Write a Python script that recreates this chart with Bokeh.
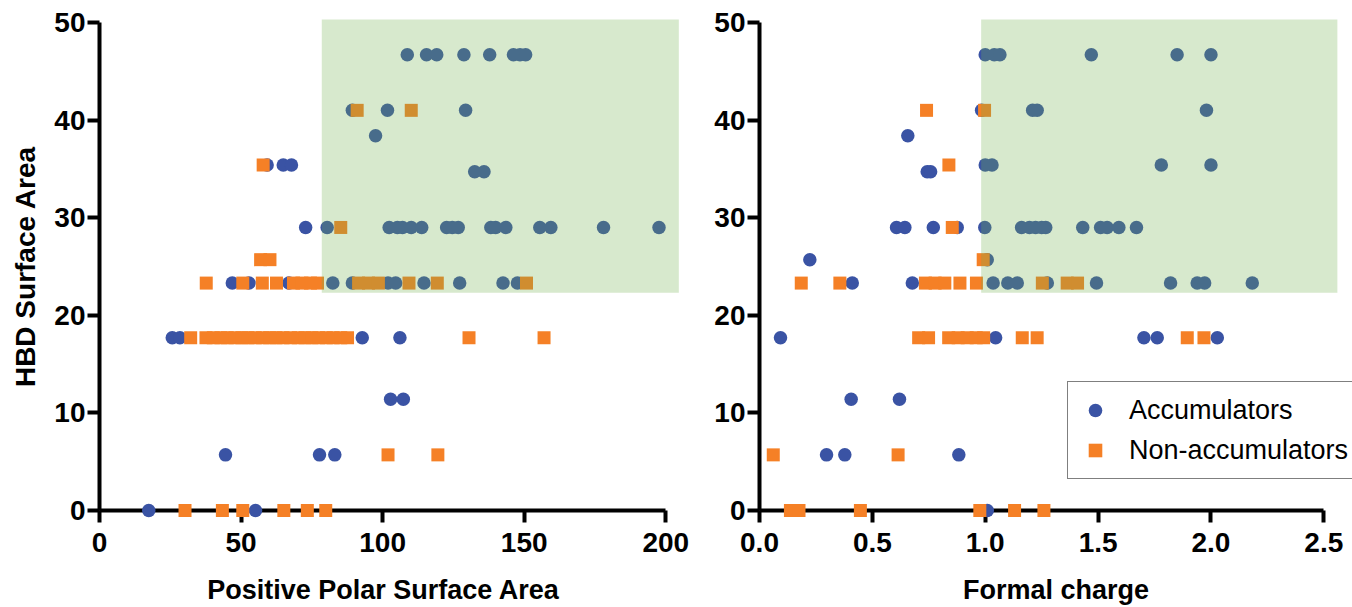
from bokeh.plotting import figure
from bokeh.models import Range1d, FixedTicker, NumeralTickFormatter, Legend, LegendItem
from bokeh.layouts import row
from bokeh.embed import file_html
from bokeh.resources import INLINE

# ---------------- data ----------------
# Left panel: Positive Polar Surface Area vs HBD Surface Area
ppsa_acc = [108.7, 115.5, 119.1, 128.7, 137.8, 146.2, 148.5, 150.5,
            89.3, 101.7, 129.3,
            97.5,
            59.2, 64.9, 67.8,
            132.5, 135.8,
            72.8, 80.4, 102.3, 105.2, 107.0, 110.1, 113.8, 122.6, 124.6, 126.7, 138.2, 139.9, 143.5, 155.5, 159.4, 178.0, 197.6,
            46.9, 52.8, 66.9, 82.4, 89.3, 101.9, 104.6, 114.6, 127.2, 142.5, 147.6,
            25.7, 28.4, 92.8, 106.1,
            102.8, 107.3,
            44.5, 77.7, 83.1,
            17.4, 55.1]
hbd_ppsa_acc = [46.7, 46.7, 46.7, 46.7, 46.7, 46.7, 46.7, 46.7,
                41.0, 41.0, 41.0,
                38.4,
                35.4, 35.4, 35.4,
                34.7, 34.7,
                29.0, 29.0, 29.0, 29.0, 29.0, 29.0, 29.0, 29.0, 29.0, 29.0, 29.0, 29.0, 29.0, 29.0, 29.0, 29.0, 29.0,
                23.3, 23.3, 23.3, 23.3, 23.3, 23.3, 23.3, 23.3, 23.3, 23.3, 23.3,
                17.7, 17.7, 17.7, 17.7,
                11.4, 11.4,
                5.7, 5.7, 5.7,
                0.0, 0.0]

ppsa_non = [91.0, 110.1,
            57.8,
            85.2,
            56.9, 60.2,
            37.7, 50.6, 57.5, 62.5, 68.5, 71.5, 74.5, 77.0, 91.5, 95.0, 98.5, 109.3, 119.3, 150.8,
            32.2, 37.6, 40.2, 42.9, 45.1, 47.8, 50.3, 52.4, 55.0, 57.6, 60.1, 62.3, 64.8, 67.5, 70.2, 72.6,
            75.0, 77.4, 80.1, 82.5, 85.2, 87.6, 130.5, 157.0,
            101.9, 119.5,
            30.2, 43.4, 50.6, 65.1, 73.4, 79.9]
hbd_ppsa_non = [41.0, 41.0,
                35.4,
                29.0,
                25.7, 25.7,
                23.3, 23.3, 23.3, 23.3, 23.3, 23.3, 23.3, 23.3, 23.3, 23.3, 23.3, 23.3, 23.3, 23.3,
                17.7, 17.7, 17.7, 17.7, 17.7, 17.7, 17.7, 17.7, 17.7, 17.7, 17.7, 17.7, 17.7, 17.7, 17.7, 17.7,
                17.7, 17.7, 17.7, 17.7, 17.7, 17.7, 17.7, 17.7,
                5.7, 5.7,
                0.0, 0.0, 0.0, 0.0, 0.0, 0.0]

# Right panel: Formal charge vs HBD Surface Area
fc_acc = [1.0, 1.04, 1.065, 1.47, 1.85, 2.0,
          0.984, 1.21, 1.23, 1.98,
          0.657,
          1.0, 1.03, 1.78, 2.0,
          0.743, 0.758,
          0.607, 0.644, 0.77, 0.876, 0.998, 1.161, 1.196, 1.223, 1.25, 1.268, 1.432, 1.511, 1.54, 1.592, 1.67,
          0.223, 1.009,
          0.411, 0.677, 1.035, 1.10, 1.142, 1.275, 1.493, 1.821, 1.939, 1.972, 2.183,
          0.093, 1.046, 1.703, 1.762, 2.028,
          0.406, 0.62,
          0.297, 0.378, 0.883,
          1.009]
hbd_fc_acc = [46.7, 46.7, 46.7, 46.7, 46.7, 46.7,
              41.0, 41.0, 41.0, 41.0,
              38.4,
              35.4, 35.4, 35.4, 35.4,
              34.7, 34.7,
              29.0, 29.0, 29.0, 29.0, 29.0, 29.0, 29.0, 29.0, 29.0, 29.0, 29.0, 29.0, 29.0, 29.0, 29.0,
              25.7, 25.7,
              23.3, 23.3, 23.3, 23.3, 23.3, 23.3, 23.3, 23.3, 23.3, 23.3, 23.3,
              17.7, 17.7, 17.7, 17.7, 17.7,
              11.4, 11.4,
              5.7, 5.7, 5.7,
              0.0]

fc_non = [0.74, 0.997,
          0.839,
          0.854,
          0.991,
          0.185, 0.356, 0.735, 0.778, 0.821, 0.888, 0.961, 1.253, 1.363, 1.409,
          0.705, 0.749, 0.838, 0.88, 0.92, 0.96, 0.993, 1.164, 1.23, 1.895, 1.969,
          0.061, 0.614,
          0.137, 0.175, 0.447, 0.976, 1.13, 1.26]
hbd_fc_non = [41.0, 41.0,
              35.4,
              29.0,
              25.7,
              23.3, 23.3, 23.3, 23.3, 23.3, 23.3, 23.3, 23.3, 23.3, 23.3,
              17.7, 17.7, 17.7, 17.7, 17.7, 17.7, 17.7, 17.7, 17.7, 17.7, 17.7,
              5.7, 5.7,
              0.0, 0.0, 0.0, 0.0, 0.0, 0.0]

# highlighted regions (data coordinates)
region_ppsa = [78.5, 204.6]
region_fc = [0.982, 2.56]
region_hbd = [22.3, 50.3]

ppsa_ticks = [0, 50, 100, 150, 200]
fc_ticks = [0, 0.5, 1.0, 1.5, 2.0, 2.5]
hbd_ticks = [0, 10, 20, 30, 40, 50]

labels = ["Accumulators", "Non-accumulators"]

# ---------------- style ----------------
BLUE = "#3a53a4"
ORANGE = "#f58026"
GREEN = "#6fb04a"
FONT = "Liberation Sans"
HEIGHT = 607
TOP = 22
FRAME_H = 489


def style(p, xticks, xbounds, xlabel, ylabel):
    p.xgrid.visible = False
    p.ygrid.visible = False
    p.outline_line_color = None
    p.background_fill_color = "white"
    p.border_fill_color = "white"
    for ax in (p.xaxis[0], p.yaxis[0]):
        ax.axis_line_width = 4
        ax.axis_line_color = "black"
        ax.major_tick_line_width = 4
        ax.major_tick_line_color = "black"
        ax.major_tick_out = 12
        ax.major_tick_in = 0
        ax.minor_tick_line_color = None
        ax.major_label_text_font = FONT
        ax.major_label_text_font_style = "bold"
        ax.major_label_text_font_size = "28px"
        ax.major_label_text_color = "black"
        ax.axis_label_text_font = FONT
        ax.axis_label_text_font_style = "bold"
        ax.axis_label_text_font_size = "27px"
        ax.axis_label_text_color = "black"
    xa = p.xaxis[0]
    xa.ticker = FixedTicker(ticks=xticks)
    xa.bounds = xbounds
    xa.major_label_standoff = 10
    xa.axis_label = xlabel
    xa.axis_label_standoff = 20
    ya = p.yaxis[0]
    ya.ticker = FixedTicker(ticks=hbd_ticks)
    ya.bounds = (hbd_ticks[0], hbd_ticks[-1])
    ya.major_label_standoff = 2
    ya.axis_label_standoff = 10
    ya.axis_label_text_font_size = "28px"
    if ylabel:
        ya.axis_label = ylabel


def panel(width, border_left, border_right, xr, xs_acc, ys_acc, xs_non, ys_non, region_x):
    p = figure(width=width, height=HEIGHT, x_range=Range1d(*xr), y_range=Range1d(0, 50),
               output_backend="svg", toolbar_location=None,
               min_border_left=border_left, min_border_right=border_right,
               min_border_top=TOP, min_border_bottom=HEIGHT - TOP - FRAME_H)
    ra = p.scatter(xs_acc, ys_acc, marker="circle", size=13.5, fill_color=BLUE,
                   line_color=None, level="annotation")
    rn = p.scatter(xs_non, ys_non, marker="square", size=13, fill_color=ORANGE,
                   line_color=None, level="annotation")
    p.quad(left=[region_x[0]], right=[region_x[1]], bottom=[region_hbd[0]], top=[region_hbd[1]],
           fill_color=GREEN, fill_alpha=0.28, line_color=None, level="annotation")
    return p, ra, rn


p1, _, _ = panel(700, 99, 33, (0, 200.6), ppsa_acc, hbd_ppsa_acc, ppsa_non, hbd_ppsa_non, region_ppsa)
style(p1, ppsa_ticks, (0, 200), "Positive Polar Surface Area", "HBD Surface Area")

p2, ra2, rn2 = panel(652, 59, 0, (0, 2.627), fc_acc, hbd_fc_acc, fc_non, hbd_fc_non, region_fc)
style(p2, fc_ticks, (0, 2.5), "Formal charge", None)
p2.xaxis[0].formatter = NumeralTickFormatter(format="0.0")

legend = Legend(items=[LegendItem(label=labels[0], renderers=[ra2]),
                       LegendItem(label=labels[1], renderers=[rn2])],
                location=(308, 31), border_line_color="black", border_line_width=1.5,
                background_fill_color="white", background_fill_alpha=1.0,
                padding=10, spacing=4, margin=0,
                glyph_width=34, glyph_height=36, label_height=36, label_width=240,
                label_standoff=17,
                label_text_font=FONT, label_text_font_size="27px", label_text_color="black")
p2.add_layout(legend)

layout = row(p1, p2)
open("out.html", "w").write(file_html(layout, INLINE))
